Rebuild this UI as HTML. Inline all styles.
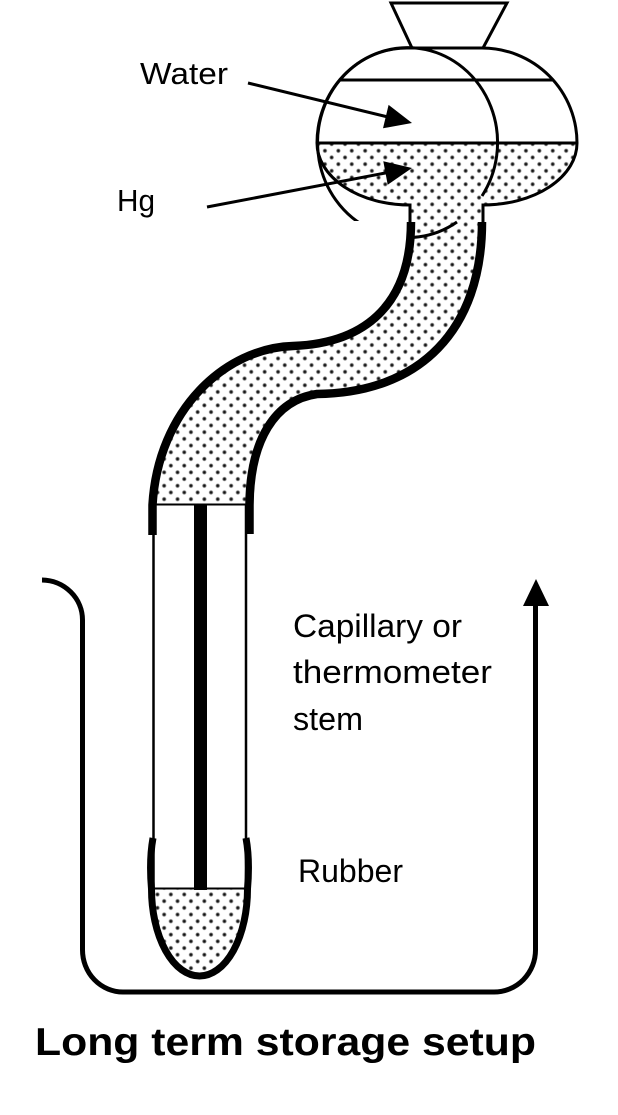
<!DOCTYPE html>
<html>
<head>
<meta charset="utf-8">
<style>
  html,body{margin:0;padding:0;background:#fff;}
  svg{display:block;}
  text{font-family:"Liberation Sans",Arial,sans-serif;fill:#000;}
</style>
</head>
<body>
<svg width="618" height="1115" viewBox="0 0 618 1115" xmlns="http://www.w3.org/2000/svg">
  <defs>
    <radialGradient id="dg">
      <stop offset="0" stop-color="#000"/>
      <stop offset="0.3" stop-color="#1a1a1a"/>
      <stop offset="0.65" stop-color="#777"/>
      <stop offset="1" stop-color="#fff" stop-opacity="0"/>
    </radialGradient>
    <pattern id="dots" patternUnits="userSpaceOnUse" width="13.4" height="13.4">
      <rect width="13.4" height="13.4" fill="#fff"/>
      <circle cx="3.35" cy="3.35" r="2.7" fill="url(#dg)"/>
      <circle cx="10.05" cy="10.05" r="2.7" fill="url(#dg)"/>
    </pattern>
  </defs>

  <rect width="618" height="1115" fill="#fff"/>

  <!-- Stipple fills -->
  <path d="M 317 143 L 577 143 A 94 62 0 0 1 483 205 L 483 224 L 410 224 L 410 205 A 93 62 0 0 1 317 143 Z" fill="url(#dots)"/>
  <path d="M 411 220 C 411 300, 370 343, 293 346 C 225 348, 158 410, 152.5 505 L 249.5 505 C 250 440, 275 400, 317 394 C 420 393, 482 330, 482 220 Z" fill="url(#dots)"/>
  <path d="M 151.5 889 A 48 87 0 0 0 247.5 889 Z" fill="url(#dots)"/>

  <!-- big ellipse (circle) -->
  <path d="M 457 222 A 90 95 0 1 1 482 196" fill="none" stroke="#000" stroke-width="3"/>
  <rect x="312" y="221" width="96" height="28" fill="#fff"/>

  <!-- funnel -->
  <path d="M 412 48 L 391 3 L 507 3 L 483 48" fill="none" stroke="#000" stroke-width="3" stroke-linejoin="miter"/>

  <!-- bulb outline -->
  <path d="M 410 222 L 410 205 A 93 62 0 0 1 317 143 A 90 95 0 0 1 407 48 L 482 48 A 95 95 0 0 1 577 143 A 94 62 0 0 1 483 205 L 483 222" fill="none" stroke="#000" stroke-width="3"/>
  <line x1="340" y1="80" x2="553" y2="80" stroke="#000" stroke-width="3"/>
  <line x1="317" y1="143" x2="577" y2="143" stroke="#000" stroke-width="3"/>

  <!-- S tube walls -->
  <path d="M 411 222 C 411 300, 370 343, 293 346 C 225 348, 158 410, 152.5 505 L 152.5 535" fill="none" stroke="#000" stroke-width="8.5"/>
  <path d="M 482 222 C 482 330, 420 393, 317 394 C 275 400, 250 440, 249.5 505 L 249.5 534" fill="none" stroke="#000" stroke-width="8.5"/>

  <!-- capillary tube -->
  <line x1="153" y1="504.5" x2="247" y2="504.5" stroke="#000" stroke-width="2"/>
  <line x1="153.5" y1="505" x2="153.5" y2="889" stroke="#000" stroke-width="2.5"/>
  <line x1="246" y1="505" x2="246" y2="889" stroke="#000" stroke-width="2.5"/>
  <rect x="194" y="504" width="13" height="386" fill="#000"/>
  <line x1="152" y1="888.5" x2="248" y2="888.5" stroke="#000" stroke-width="2"/>

  <!-- rubber bottom -->
  <path d="M 153 838 Q 149 860 151.5 889 A 48 87 0 0 0 247.5 889 Q 250 860 246 838" fill="none" stroke="#000" stroke-width="7"/>

  <!-- beaker -->
  <path d="M 42 580 A 41 40 0 0 1 82.5 620 L 82.5 950 A 40.5 42 0 0 0 123 992 L 494 992 A 41.5 42 0 0 0 535.5 950 L 535.5 600" fill="none" stroke="#000" stroke-width="5"/>
  <polygon points="536,579 523,606 549,606" fill="#000"/>

  <!-- label arrows -->
  <line x1="248" y1="83" x2="388" y2="117" stroke="#000" stroke-width="3"/>
  <polygon points="412,123 383,128.3 388.6,104.9" fill="#000"/>
  <line x1="207" y1="207" x2="388" y2="172.5" stroke="#000" stroke-width="3"/>
  <polygon points="412,168 387.7,184.8 383.3,161.3" fill="#000"/>

  <!-- labels -->
  <text x="140" y="84" font-size="31" textLength="88" lengthAdjust="spacingAndGlyphs">Water</text>
  <text x="117" y="211" font-size="31" textLength="38" lengthAdjust="spacingAndGlyphs">Hg</text>
  <text x="293" y="637" font-size="32" textLength="169" lengthAdjust="spacingAndGlyphs">Capillary or</text>
  <text x="293" y="683" font-size="32" textLength="199" lengthAdjust="spacingAndGlyphs">thermometer</text>
  <text x="293" y="730" font-size="32" textLength="70" lengthAdjust="spacingAndGlyphs">stem</text>
  <text x="298" y="882" font-size="32" textLength="105" lengthAdjust="spacingAndGlyphs">Rubber</text>

  <text x="35" y="1055" font-size="39" font-weight="bold" textLength="501" lengthAdjust="spacingAndGlyphs">Long term storage setup</text>
</svg>
</body>
</html>
